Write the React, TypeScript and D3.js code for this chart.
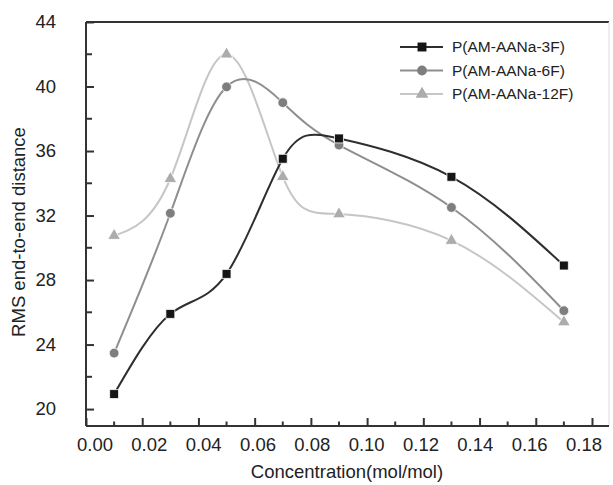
import { useEffect, useRef } from 'react';
import * as d3 from 'd3';

// concentrations (mol/mol)
const conc = [0.01, 0.03, 0.05, 0.07, 0.09, 0.13, 0.17];

// RMS end-to-end distance per series
const rms3F = [20.93, 25.9, 28.38, 35.52, 36.78, 34.4, 28.9];
const rms6F = [23.47, 32.14, 39.98, 39.0, 36.37, 32.5, 26.1];
const rms12F = [30.75, 34.28, 42.0, 34.4, 32.09, 30.44, 25.39];

const seriesNames = ['P(AM-AANa-3F)', 'P(AM-AANa-6F)', 'P(AM-AANa-12F)'];

const xTicks = [0, 0.02, 0.04, 0.06, 0.08, 0.1, 0.12, 0.14, 0.16, 0.18];
const xMinor = [0.01, 0.03, 0.05, 0.07, 0.09, 0.11, 0.13, 0.15, 0.17];
const yTicks = [20, 24, 28, 32, 36, 40, 44];
const yMinor = [22, 26, 30, 34, 38, 42];

const App = () => {
  const svgRef = useRef<SVGSVGElement>(null);

  useEffect(() => {
    const W = 613, H = 485;
    const left = 86, right = 609, top = 22, bottom = 426;
    const font = 'Liberation Sans, Arial, sans-serif';

    const svg = d3.select(svgRef.current).attr('width', W).attr('height', H);
    svg.selectAll('*').remove();
    svg.append('rect').attr('width', W).attr('height', H).attr('fill', '#fff');

    const x = d3.scaleLinear().domain([0, 0.18605]).range([left, right]);
    const y = d3.scaleLinear().domain([18.95, 44]).range([bottom, top]);
    // the printed tick labels sit a bit inside the tick marks in the scan
    const xLab = d3.scaleLinear().domain([0, 0.18]).range([95, 584]);

    // frame
    svg.append('line').attr('x1', left).attr('x2', right).attr('y1', top).attr('y2', top)
      .attr('stroke', '#333').attr('stroke-width', 2);
    svg.append('line').attr('x1', right).attr('x2', right).attr('y1', top).attr('y2', bottom)
      .attr('stroke', '#ddd').attr('stroke-width', 1);

    // x axis (ticks inward)
    const xAxis = d3.axisBottom(x).tickValues(xTicks).tickSize(-8).tickFormat(() => '');
    const gx = svg.append('g').attr('transform', `translate(0,${bottom})`).call(xAxis);
    gx.select('.domain').attr('stroke', '#333').attr('stroke-width', 2).attr('d', `M${left},0H${right}`);
    gx.selectAll('.tick line').attr('stroke', '#333').attr('stroke-width', 2);
    gx.selectAll('.minor').data(xMinor).enter().append('line')
      .attr('x1', d => x(d)).attr('x2', d => x(d)).attr('y1', 0).attr('y2', -4.5)
      .attr('stroke', '#333').attr('stroke-width', 2);
    svg.selectAll('.xlab').data(xTicks).enter().append('text')
      .attr('x', d => xLab(d)).attr('y', 451).attr('text-anchor', 'middle')
      .attr('font-family', font).attr('font-size', 18.5).attr('fill', '#222')
      .text(d => d.toFixed(2));

    // y axis
    const yAxis = d3.axisLeft(y).tickValues(yTicks).tickSize(-8).tickPadding(30)
      .tickFormat(d3.format('d'));
    const gy = svg.append('g').attr('transform', `translate(${left},0)`).call(yAxis);
    gy.select('.domain').attr('stroke', '#333').attr('stroke-width', 2).attr('d', `M0,${top}V${bottom}`);
    gy.selectAll('.tick line').attr('stroke', '#333').attr('stroke-width', 2);
    gy.selectAll('.tick text').attr('font-family', font).attr('font-size', 18.5).attr('fill', '#222');
    gy.selectAll('.minor').data(yMinor).enter().append('line')
      .attr('y1', d => y(d)).attr('y2', d => y(d)).attr('x1', 0).attr('x2', 6)
      .attr('stroke', '#333').attr('stroke-width', 2);

    // axis titles
    svg.append('text').attr('x', 347).attr('y', 478)
      .attr('text-anchor', 'middle').attr('font-family', font).attr('font-size', 18.5).attr('fill', '#222')
      .text('Concentration(mol/mol)');
    svg.append('text').attr('transform', `translate(25,232) rotate(-90)`)
      .attr('text-anchor', 'middle').attr('font-family', font).attr('font-size', 18.5).attr('fill', '#222')
      .text('RMS end-to-end distance');

    const series = [
      { name: seriesNames[0], values: rms3F, line: '#2e2e2e', mark: '#151515', shape: d3.symbolSquare, size: 80 },
      { name: seriesNames[1], values: rms6F, line: '#8e8e8e', mark: '#7e7e7e', shape: d3.symbolCircle, size: 75 },
      { name: seriesNames[2], values: rms12F, line: '#c6c6c6', mark: '#acacac', shape: d3.symbolTriangle, size: 70 },
    ];

    const line = d3.line<number>()
      .x((_, i) => x(conc[i]))
      .y(d => y(d))
      .curve(d3.curveNatural);

    // draw lightest first so dark sits on top
    [...series].reverse().forEach(s => {
      svg.append('path').datum(s.values).attr('fill', 'none')
        .attr('stroke', s.line).attr('stroke-width', 2).attr('d', line);
      svg.selectAll(null).data(s.values).enter().append('path')
        .attr('transform', (d, i) => `translate(${x(conc[i])},${y(d)})`)
        .attr('d', d3.symbol().type(s.shape).size(s.size)())
        .attr('fill', s.mark).attr('stroke', '#fff').attr('stroke-width', 0.8);
    });

    // legend
    const lg = svg.append('g');
    series.forEach((s, i) => {
      const ly = 47 + i * 23.5;
      lg.append('line').attr('x1', 400).attr('x2', 443).attr('y1', ly).attr('y2', ly)
        .attr('stroke', s.line).attr('stroke-width', 2);
      lg.append('path').attr('transform', `translate(422,${ly})`)
        .attr('d', d3.symbol().type(s.shape).size(s.size)()).attr('fill', s.mark);
      lg.append('text').attr('x', 452).attr('y', ly).attr('dy', '0.35em')
        .attr('font-family', font).attr('font-size', 15.5).attr('fill', '#222').text(s.name);
    });
  }, []);

  return (
    <svg ref={svgRef} style={{ position: 'absolute', left: 0, top: 0, display: 'block' }}></svg>
  );
};

export default App;
